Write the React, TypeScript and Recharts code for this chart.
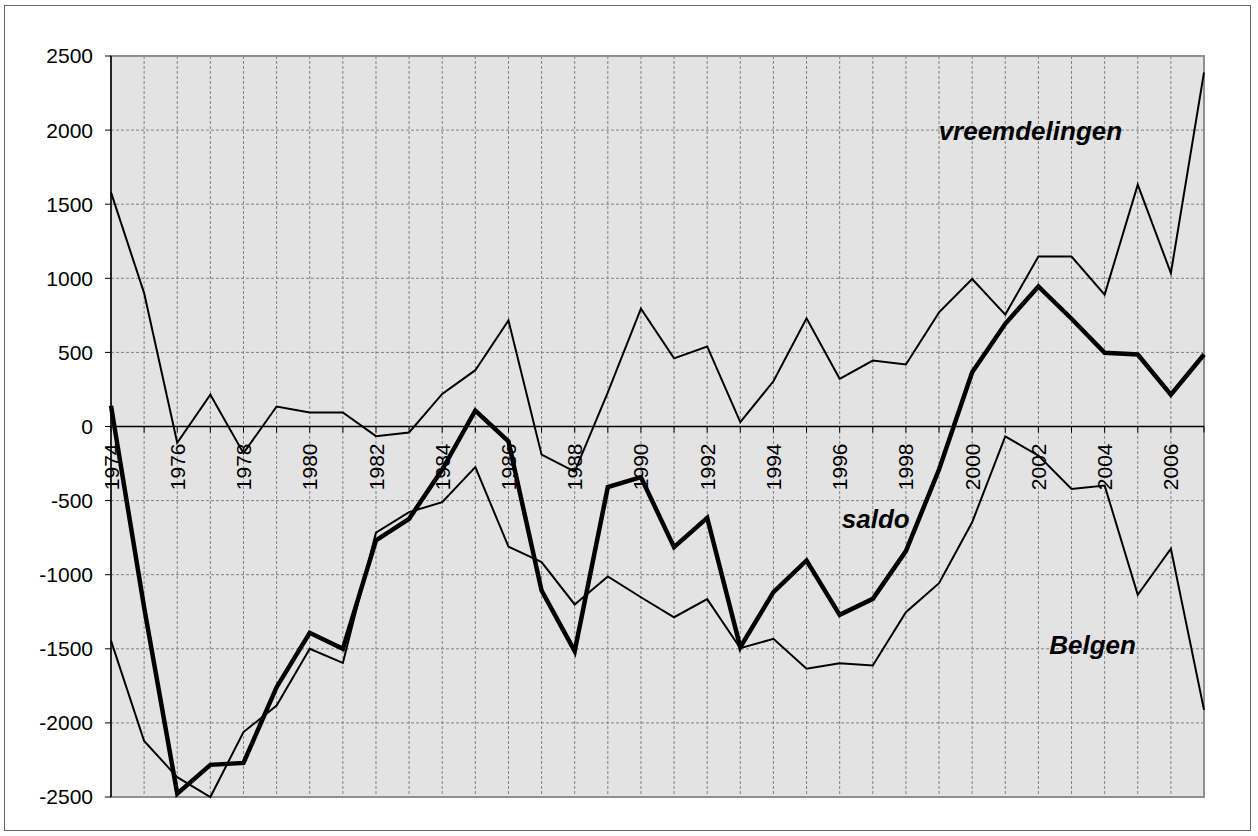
import {
  LineChart,
  Line,
  XAxis,
  YAxis,
  CartesianGrid,
  ReferenceLine,
  ReferenceArea,
  ReferenceDot,
} from 'recharts';

const years = [
  1974, 1975, 1976, 1977, 1978, 1979, 1980, 1981, 1982, 1983, 1984, 1985,
  1986, 1987, 1988, 1989, 1990, 1991, 1992, 1993, 1994, 1995, 1996, 1997,
  1998, 1999, 2000, 2001, 2002, 2003, 2004, 2005, 2006, 2007,
];

const vreemdelingen = [
  1580, 900, -110, 215, -180, 135, 95, 95, -65, -40, 220, 380,
  715, -190, -305, 230, 795, 460, 540, 30, 305, 730, 322, 445,
  418, 770, 995, 755, 1147, 1147, 890, 1632, 1035, 2390,
];

const belgen = [
  -1445, -2122, -2366, -2500, -2062, -1883, -1500, -1595, -717, -578, -511, -274,
  -810, -915, -1201, -1012, -1152, -1287, -1165, -1496, -1433, -1635, -1597, -1613,
  -1253, -1057, -646, -67, -196, -421, -398, -1136, -825, -1912,
];

const saldo = [
  140, -1220, -2478, -2283, -2270, -1759, -1392, -1500, -769, -623, -291, 108,
  -100, -1107, -1516, -409, -342, -814, -616, -1489, -1118, -904, -1271, -1163,
  -841, -290, 366, 693, 945, 727, 497, 486, 214, 486,
];

const yTicks = [2500, 2000, 1500, 1000, 500, 0, -500, -1000, -1500, -2000, -2500];

const data = years.map((year, i) => ({
  year,
  vreemdelingen: vreemdelingen[i],
  belgen: belgen[i],
  saldo: saldo[i],
}));

const W = 1258;
const H = 836;
const X_AXIS_H = 30;
const MARGIN = { top: 56, right: 54, bottom: 9, left: 0 };
// the year labels hang from the zero line, which sits halfway up the plot
const ZERO_OFFSET = (H - MARGIN.top - MARGIN.bottom - X_AXIS_H) / 2;
const FONT = 'Arial, "Liberation Sans", sans-serif';

function YearTick(props: any) {
  const { x, y, payload } = props;
  const zy = y - ZERO_OFFSET;
  const year = Number(payload.value);
  const ty = zy + 17;
  return (
    <g>
      <line x1={x} y1={zy} x2={x} y2={zy + 6} stroke="#000" strokeWidth={1} />
      {year % 2 === 0 && (
        <text
          x={x}
          y={ty}
          dy="0.36em"
          transform={`rotate(-90 ${x} ${ty})`}
          textAnchor="end"
          fontSize={21}
          fontFamily={FONT}
          fill="#000"
        >
          {year}
        </text>
      )}
    </g>
  );
}

function seriesLabel(text: string, dx: number, dy: number) {
  return (props: any) => {
    const vb = props.viewBox || {};
    const cx = (vb.x ?? 0) + (vb.width ?? 0) / 2;
    const cy = (vb.y ?? 0) + (vb.height ?? 0) / 2;
    return (
      <text
        x={cx + dx}
        y={cy + dy}
        textAnchor="middle"
        fontSize={26}
        fontWeight="bold"
        fontStyle="italic"
        fontFamily={FONT}
        fill="#000"
      >
        {text}
      </text>
    );
  };
}

export default function App() {
  return (
    <div style={{ position: 'absolute', left: 0, top: 0, width: W, height: H, background: '#fff' }}>
      <div
        style={{
          position: 'absolute',
          left: 4,
          top: 5,
          width: 1247,
          height: 826,
          border: '1px solid #666',
          boxSizing: 'border-box',
        }}
      />
      <div style={{ position: 'absolute', left: 0, top: 0 }}>
        <LineChart width={W} height={H} data={data} margin={MARGIN}>
          <CartesianGrid
            stroke="#808080"
            strokeDasharray="3 2"
            fill="#e3e3e3"
            fillOpacity={1}
          />
          <ReferenceArea
            x1={1974}
            x2={2007}
            y1={-2500}
            y2={2500}
            fill="none"
            stroke="#909090"
            strokeWidth={2}
            ifOverflow="visible"
          />
          <XAxis
            dataKey="year"
            type="category"
            interval={0}
            height={X_AXIS_H}
            axisLine={false}
            tickLine={false}
            tickSize={0}
            tickMargin={0}
            tick={(p: any) => <YearTick {...p} />}
          />
          <YAxis
            type="number"
            domain={[-2500, 2500]}
            ticks={yTicks}
            interval={0}
            width={111}
            axisLine={{ stroke: '#000', strokeWidth: 1.5 }}
            tickLine={{ stroke: '#000' }}
            tickSize={6}
            tickMargin={12}
            tick={{ fill: '#000', fontSize: 21, fontFamily: FONT }}
          />
          <ReferenceLine y={0} stroke="#000" strokeWidth={1.5} />
          <Line
            type="linear"
            dataKey="vreemdelingen"
            stroke="#000"
            strokeWidth={2}
            dot={false}
            isAnimationActive={false}
          />
          <Line
            type="linear"
            dataKey="belgen"
            stroke="#000"
            strokeWidth={2}
            dot={false}
            isAnimationActive={false}
          />
          <Line
            type="linear"
            dataKey="saldo"
            stroke="#000"
            strokeWidth={4.5}
            dot={false}
            isAnimationActive={false}
          />
          <ReferenceDot
            x={2002}
            y={2000}
            r={0}
            fill="none"
            stroke="none"
            label={seriesLabel('vreemdelingen', -8, 10)}
          />
          <ReferenceDot
            x={1997}
            y={-700}
            r={0}
            fill="none"
            stroke="none"
            label={seriesLabel('saldo', 3, -2)}
          />
          <ReferenceDot
            x={2004}
            y={-1500}
            r={0}
            fill="none"
            stroke="none"
            label={seriesLabel('Belgen', -12, 5)}
          />
        </LineChart>
      </div>
    </div>
  );
}
